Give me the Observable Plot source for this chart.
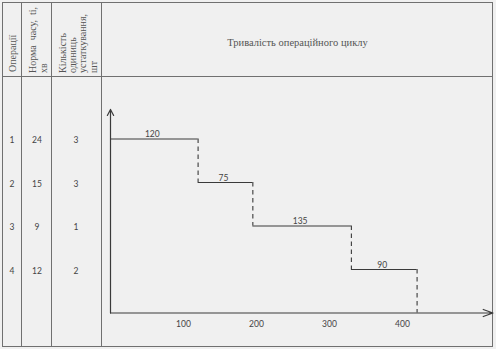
<!DOCTYPE html>
<html><head><meta charset="utf-8">
<script src="https://cdn.jsdelivr.net/npm/d3@7"></script>
<script src="https://cdn.jsdelivr.net/npm/@observablehq/plot@0.6"></script>
<style>
html,body{margin:0;padding:0;background:#f0f0f0;}
#wrap{position:relative;width:496px;height:349px;overflow:hidden;background:#f0f0f0;}
.ln{position:absolute;background:#707070;}
.rot{position:absolute;transform-origin:0 0;transform:rotate(-90deg);font-family:"Liberation Serif","Times New Roman",serif;font-size:10px;line-height:11px;color:#555;white-space:nowrap;}
.num{position:absolute;font-family:Lato,sans-serif;font-size:8.5px;color:#444;transform:translate(-50%,-50%);white-space:nowrap;}
#title{position:absolute;left:102px;width:391px;top:37px;text-align:center;font-family:"Liberation Serif","Times New Roman",serif;font-size:10.5px;color:#555;white-space:nowrap;}
#chart{position:absolute;left:102px;top:77px;}
</style></head>
<body>
<div id="wrap">
  <div class="ln" style="left:2px;top:2px;width:491px;height:1px"></div>
  <div class="ln" style="left:2px;top:346px;width:491px;height:1px"></div>
  <div class="ln" style="left:2px;top:76px;width:491px;height:1px"></div>
  <div class="ln" style="left:2px;top:2px;width:1px;height:345px"></div>
  <div class="ln" style="left:492px;top:2px;width:1px;height:345px"></div>
  <div class="ln" style="left:21px;top:2px;width:1px;height:345px"></div>
  <div class="ln" style="left:51px;top:2px;width:1px;height:345px"></div>
  <div class="ln" style="left:101px;top:2px;width:1px;height:345px"></div>
  <div class="rot" style="left:6.5px;top:72px">Операції</div>
  <div class="rot" style="left:27px;top:73px">Норма&nbsp; часу,&nbsp; ti,<br>хв</div>
  <div class="rot" style="left:57.5px;top:73px;line-height:10.2px">Кількість<br>одиниць<br>устаткування,<br>шт</div>
  <div id="title">Тривалість операційного циклу</div>
  <div id="chart"></div>
</div>
<script>
const operations = [1, 2, 3, 4];
const timeNorm = [24, 15, 9, 12];
const units = [3, 3, 1, 2];
const durations = [120, 75, 135, 90];
const tickValues = [100, 200, 300, 400];
const baseOp = 5;      // level of the time axis (below the last operation)
const axisTopOp = 0.32; // top end of the vertical axis arrow
const axisEnd = 524;   // right end of the time axis arrow

const ends = Array.from(d3.cumsum(durations));
const steps = operations.map((op, i) => ({
  op, dur: durations[i], start: ends[i] - durations[i], end: ends[i],
  mid: ends[i] - durations[i] / 2,
  next: i < operations.length - 1 ? operations[i + 1] : baseOp
}));
const ticks = tickValues.map(v => ({v, y: baseOp}));

const ink = "#3a3a3a";
const plot = Plot.plot({
  width: 394, height: 270,
  style: {background: "transparent", overflow: "visible"},
  x: {domain: [0, axisEnd], range: [8, 390.5], axis: null},
  y: {domain: [0, baseOp], range: [18, 235.5], axis: null},
  marks: [
    Plot.arrow([{x: 0, y1: baseOp, y2: axisTopOp}], {x1: "x", x2: "x", y1: "y1", y2: "y2", stroke: ink, strokeWidth: 1.2, headLength: 8.5, headAngle: 55}),
    Plot.arrow([{x1: 0, x2: axisEnd, y: baseOp}], {x1: "x1", x2: "x2", y1: "y", y2: "y", stroke: ink, strokeWidth: 1.2, headLength: 13, headAngle: 40}),
    Plot.ruleY(steps, {y: "op", x1: "start", x2: "end", stroke: ink, strokeWidth: 1.1}),
    Plot.ruleX(steps, {x: "end", y1: "op", y2: "next", stroke: ink, strokeWidth: 1.1, strokeDasharray: "4.5,3.5"}),
    Plot.text(steps, {x: "mid", y: "op", text: d => String(d.dur), dx: -2, dy: -2, lineAnchor: "bottom", fontFamily: "Lato", fontSize: 8.5, fill: "#444"}),
    Plot.text(ticks, {x: "v", y: "y", text: d => String(d.v), dy: 11, fontFamily: "Lato", fontSize: 8.5, fill: "#444"})
  ]
});
document.getElementById("chart").appendChild(plot);

const ys = plot.scale("y");
const wrap = document.getElementById("wrap");
const cols = [[operations, 12], [timeNorm, 37], [units, 76]];
operations.forEach((op, i) => {
  const py = 77 + ys.apply(op) + 1.5;
  cols.forEach(([arr, cx]) => {
    const d = document.createElement("div");
    d.className = "num";
    d.style.left = cx + "px";
    d.style.top = py + "px";
    d.textContent = arr[i];
    wrap.appendChild(d);
  });
});
</script>
</body></html>
